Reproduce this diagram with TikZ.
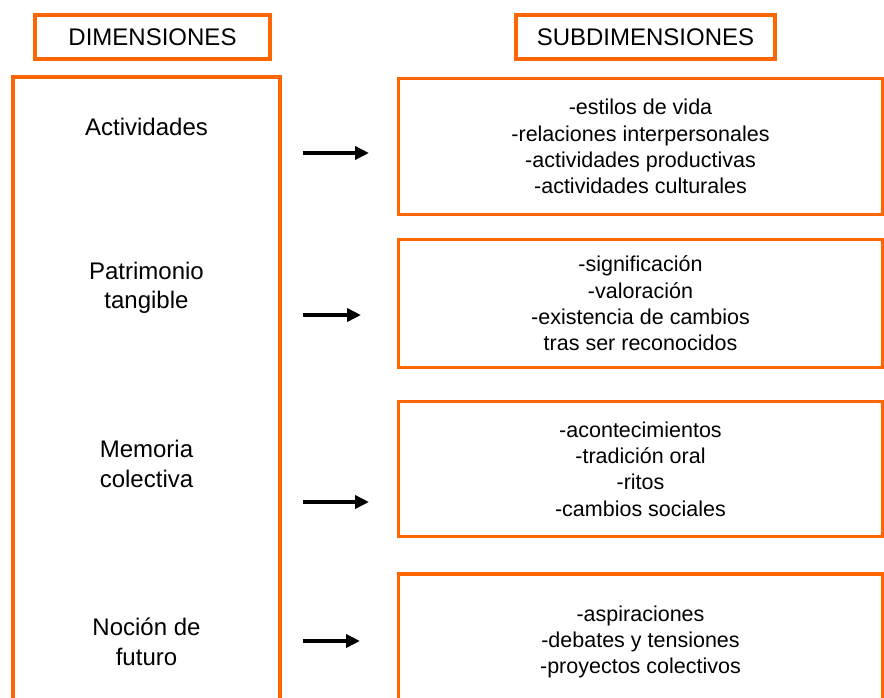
\documentclass[tikz,border=0pt]{standalone}
\usepackage{fontspec}
\setmainfont{Liberation Sans}
\usetikzlibrary{arrows.meta}
\definecolor{naranja}{RGB}{255,102,0}
\tikzset{
  caja/.style={draw=naranja, line width=3.5pt, inner sep=0pt, align=center},
  titulo/.style={caja, font=\fontsize{24}{29}\selectfont},
  dimtexto/.style={align=center, inner sep=0pt, font=\fontsize{24}{29.5}\selectfont},
  subtexto/.style={caja, font=\fontsize{21.5}{26.3}\selectfont},
  flecha/.style={-{Triangle[length=14pt,width=13pt]}, line width=3.5pt}
}
\begin{document}
\begin{tikzpicture}[x=1pt,y=-1pt]
        % frame
        \clip (0,0) rectangle (884,697);
        \fill[white] (0,0) rectangle (884,697);
        % headers
        \node[titulo, minimum width=235pt, minimum height=44pt] (hdim) at (152.5,37) {DIMENSIONES};
        \node[titulo, minimum width=259pt, minimum height=44pt] (hsub) at (645.5,37) {SUBDIMENSIONES};
        % left column
        \node[caja, minimum width=267pt, minimum height=680pt] (dim) at (146.5,417) {};
        \node[dimtexto] (act) at (146.5,127) {Actividades};
        \node[dimtexto] (pat) at (146.5,288) {Patrimonio\\tangible};
        \node[dimtexto] (mem) at (146.5,464) {Memoria\\colectiva};
        \node[dimtexto] (fut) at (146.5,642) {Noción de\\futuro};
        % right column
        \node[subtexto, minimum width=484pt, minimum height=136pt] (sact) at (640.5,146.5)
          {-estilos de vida\\-relaciones interpersonales\\-actividades productivas\\-actividades culturales};
        \node[subtexto, minimum width=484pt, minimum height=128pt] (spat) at (640.5,303.5)
          {-significación\\-valoración\\-existencia de cambios\\tras ser reconocidos};
        \node[subtexto, minimum width=484pt, minimum height=135pt] (smem) at (640.5,469)
          {-acontecimientos\\-tradición oral\\-ritos\\-cambios sociales};
        \node[subtexto, minimum width=484pt, minimum height=136pt] (sfut) at (640.5,642)
          {-aspiraciones\\-debates y tensiones\\-proyectos colectivos};
        % arrows
        \coordinate (f1a) at (303,153);
        \coordinate (f1b) at (369,153);
        \coordinate (f2a) at (303,315);
        \coordinate (f2b) at (361,315);
        \coordinate (f3a) at (303,502);
        \coordinate (f3b) at (369,502);
        \coordinate (f4a) at (303,641);
        \coordinate (f4b) at (360,641);
        \draw[flecha] (f1a) -- (f1b);
        \draw[flecha] (f2a) -- (f2b);
        \draw[flecha] (f3a) -- (f3b);
        \draw[flecha] (f4a) -- (f4b);
    \end{tikzpicture}
\end{document}
